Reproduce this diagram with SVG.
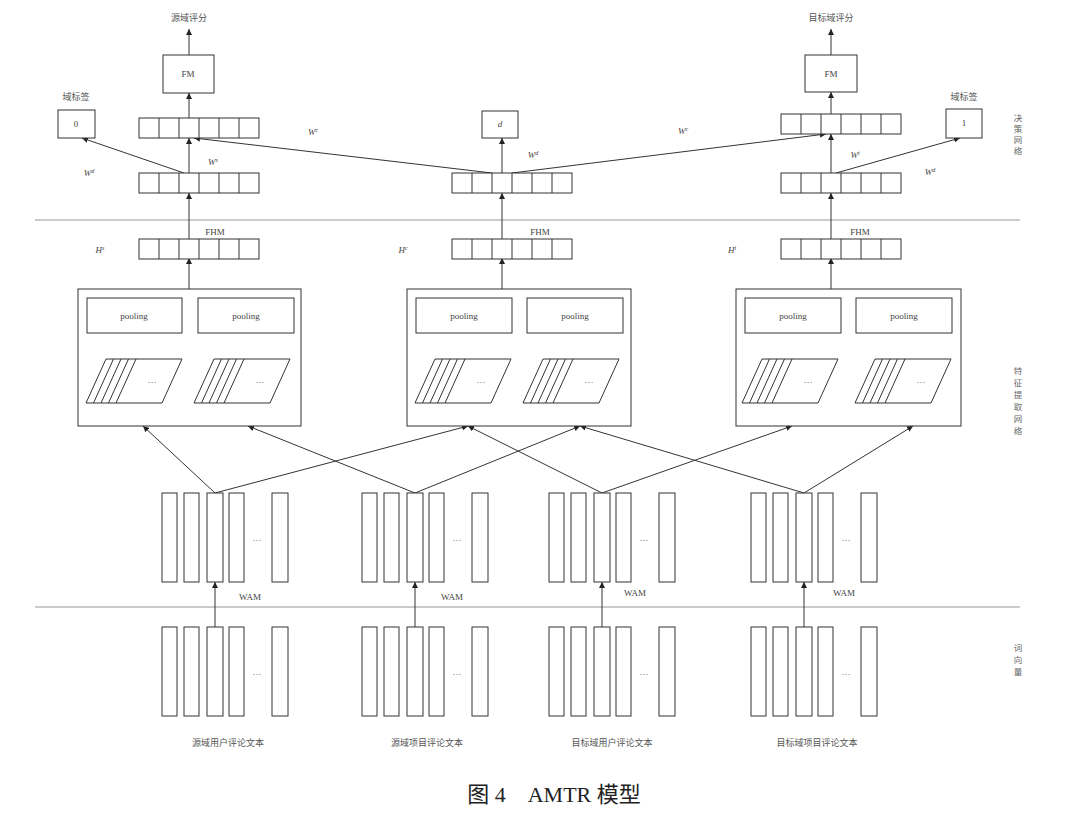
<svg xmlns="http://www.w3.org/2000/svg" width="1080" height="816" viewBox="0 0 1080 816">
<style>
.b{fill:#fff;stroke:#333;stroke-width:1}
.c{stroke:#333;stroke-width:1;fill:none}
.sep{stroke:#999;stroke-width:1.2;fill:none}
.t{font-family:"Liberation Serif","Noto Sans CJK SC",serif;font-size:9px;fill:#444}
.i{font-family:"Liberation Serif",serif;font-size:9px;font-style:italic;fill:#444}
.sup{font-size:6px}
.cn{font-family:"Noto Sans CJK SC",sans-serif;font-size:9px;fill:#555}
.v{font-family:"Noto Sans CJK SC",sans-serif;font-size:8.5px;fill:#666}
.cap{font-family:"Liberation Serif","Noto Sans CJK SC",serif;font-size:22px;fill:#222}
</style>
<defs>
<marker id="ah" viewBox="0 0 10 10" refX="10" refY="5" markerWidth="6" markerHeight="6" orient="auto"><path d="M0,0 L10,5 L0,10 z" fill="#222"/></marker>
<g id="bar6"><rect class="b" x="0" y="0" width="120" height="20"/><path class="c" d="M20,0V20M40,0V20M60,0V20M80,0V20M100,0V20"/></g>
<g id="par"><path class="c" d="M20,0H96L76,44H0Z M27.5,0L7.5,44 M35,0L15,44 M42.5,0L22.5,44 M50,0L30,44"/><text class="t" x="66" y="24" text-anchor="middle">…</text></g>
<g id="wv"><rect class="b" x="0" y="0" width="15" height="89"/><rect class="b" x="22" y="0" width="15" height="89"/><rect class="b" x="45" y="0" width="16" height="89"/><rect class="b" x="67" y="0" width="15" height="89"/><rect class="b" x="110" y="0" width="16" height="89"/><text class="t" x="95" y="48" text-anchor="middle">…</text></g>
</defs>
<rect width="1080" height="816" fill="#fff"/>

<g id="separators">
<line class="sep" x1="35" y1="220" x2="1020" y2="220"/>
<line class="sep" x1="35" y1="607" x2="1020" y2="607"/>
</g>

<g id="section-labels">
<text class="v" x="1018" y="121" text-anchor="middle">决</text>
<text class="v" x="1018" y="132" text-anchor="middle">策</text>
<text class="v" x="1018" y="143" text-anchor="middle">网</text>
<text class="v" x="1018" y="154" text-anchor="middle">络</text>
<text class="v" x="1018" y="374" text-anchor="middle">特</text>
<text class="v" x="1018" y="386" text-anchor="middle">征</text>
<text class="v" x="1018" y="398" text-anchor="middle">提</text>
<text class="v" x="1018" y="410" text-anchor="middle">取</text>
<text class="v" x="1018" y="422" text-anchor="middle">网</text>
<text class="v" x="1018" y="434" text-anchor="middle">络</text>
<text class="v" x="1018" y="651" text-anchor="middle">词</text>
<text class="v" x="1018" y="663" text-anchor="middle">向</text>
<text class="v" x="1018" y="675" text-anchor="middle">量</text>
</g>

<g id="connectors">
<line class="c" x1="189" y1="55" x2="189" y2="29" marker-end="url(#ah)"/>
<line class="c" x1="189" y1="118" x2="189" y2="93" marker-end="url(#ah)"/>
<line class="c" x1="189" y1="173" x2="189" y2="138" marker-end="url(#ah)"/>
<line class="c" x1="184" y1="173" x2="82" y2="138" marker-end="url(#ah)"/>
<line class="c" x1="492" y1="173" x2="194" y2="138" marker-end="url(#ah)"/>
<line class="c" x1="512" y1="173" x2="826" y2="134" marker-end="url(#ah)"/>
<line class="c" x1="502" y1="173" x2="502" y2="138" marker-end="url(#ah)"/>
<line class="c" x1="831" y1="55" x2="831" y2="29" marker-end="url(#ah)"/>
<line class="c" x1="831" y1="114" x2="831" y2="92" marker-end="url(#ah)"/>
<line class="c" x1="831" y1="173" x2="831" y2="134" marker-end="url(#ah)"/>
<line class="c" x1="836" y1="173" x2="960" y2="138" marker-end="url(#ah)"/>
<line class="c" x1="189" y1="239" x2="189" y2="193" marker-end="url(#ah)"/>
<line class="c" x1="502" y1="239" x2="502" y2="193" marker-end="url(#ah)"/>
<line class="c" x1="831" y1="239" x2="831" y2="193" marker-end="url(#ah)"/>
<line class="c" x1="189" y1="289" x2="189" y2="258" marker-end="url(#ah)"/>
<line class="c" x1="502" y1="289" x2="502" y2="258" marker-end="url(#ah)"/>
<line class="c" x1="831" y1="289" x2="831" y2="258" marker-end="url(#ah)"/>
<line class="c" x1="215" y1="493" x2="143" y2="426" marker-end="url(#ah)"/>
<line class="c" x1="215" y1="493" x2="468" y2="426" marker-end="url(#ah)"/>
<line class="c" x1="415" y1="493" x2="248" y2="426" marker-end="url(#ah)"/>
<line class="c" x1="415" y1="493" x2="580" y2="426" marker-end="url(#ah)"/>
<line class="c" x1="602" y1="493" x2="468" y2="426" marker-end="url(#ah)"/>
<line class="c" x1="602" y1="493" x2="792" y2="426" marker-end="url(#ah)"/>
<line class="c" x1="804" y1="493" x2="580" y2="426" marker-end="url(#ah)"/>
<line class="c" x1="804" y1="493" x2="913" y2="426" marker-end="url(#ah)"/>
<line class="c" x1="215" y1="628" x2="215" y2="582" marker-end="url(#ah)"/>
<line class="c" x1="415" y1="628" x2="415" y2="582" marker-end="url(#ah)"/>
<line class="c" x1="602" y1="628" x2="602" y2="582" marker-end="url(#ah)"/>
<line class="c" x1="804" y1="628" x2="804" y2="582" marker-end="url(#ah)"/>
</g>

<g id="weight-labels">
<text class="i" x="89" y="176" text-anchor="middle">W<tspan class="sup" dy="-3">d</tspan></text>
<text class="i" x="213" y="165" text-anchor="middle">W<tspan class="sup" dy="-3">s</tspan></text>
<text class="i" x="313" y="135" text-anchor="middle">W<tspan class="sup" dy="-3">c</tspan></text>
<text class="i" x="533" y="158" text-anchor="middle">W<tspan class="sup" dy="-3">d</tspan></text>
<text class="i" x="683" y="134" text-anchor="middle">W<tspan class="sup" dy="-3">c</tspan></text>
<text class="i" x="855" y="158" text-anchor="middle">W<tspan class="sup" dy="-3">t</tspan></text>
<text class="i" x="930" y="175" text-anchor="middle">W<tspan class="sup" dy="-3">d</tspan></text>
<text class="i" x="100" y="253" text-anchor="middle">H<tspan class="sup" dy="-3">s</tspan></text>
<text class="i" x="403" y="253" text-anchor="middle">H<tspan class="sup" dy="-3">c</tspan></text>
<text class="i" x="732" y="253" text-anchor="middle">H<tspan class="sup" dy="-3">t</tspan></text>
</g>

<g id="source-score"><text class="cn" x="189" y="21" text-anchor="middle">源域评分</text></g>
<g id="target-score"><text class="cn" x="831" y="21" text-anchor="middle">目标域评分</text></g>
<g id="fm-source"><rect class="b" x="163" y="55" width="51" height="38"/><text class="t" x="188" y="77" text-anchor="middle">FM</text></g>
<g id="fm-target"><rect class="b" x="805" y="55" width="52" height="37"/><text class="t" x="831" y="77" text-anchor="middle">FM</text></g>
<g id="domain-0"><text class="cn" x="76" y="100" text-anchor="middle">域标签</text><rect class="b" x="58" y="110" width="37" height="28"/><text class="t" x="76" y="127" text-anchor="middle">0</text></g>
<g id="domain-d"><rect class="b" x="482" y="111" width="36" height="27"/><text class="t" x="500" y="127" text-anchor="middle" font-style="italic">d</text></g>
<g id="domain-1"><text class="cn" x="964" y="100" text-anchor="middle">域标签</text><rect class="b" x="946" y="109" width="36" height="29"/><text class="t" x="964" y="126" text-anchor="middle">1</text></g>

<g id="dec-top-left"><use href="#bar6" x="139" y="118"/></g>
<g id="dec-low-left"><use href="#bar6" x="139" y="173"/></g>
<g id="dec-low-mid"><use href="#bar6" x="452" y="173"/></g>
<g id="dec-top-right"><use href="#bar6" x="781" y="114"/></g>
<g id="dec-low-right"><use href="#bar6" x="781" y="173"/></g>

<g id="fhm-left"><text class="t" x="215" y="235" text-anchor="middle">FHM</text><use href="#bar6" x="139" y="239"/></g>
<g id="fhm-mid"><text class="t" x="540" y="235" text-anchor="middle">FHM</text><use href="#bar6" x="452" y="239"/></g>
<g id="fhm-right"><text class="t" x="860" y="235" text-anchor="middle">FHM</text><use href="#bar6" x="781" y="239"/></g>

<g id="cnn-left">
<rect class="b" x="78" y="289" width="223" height="137"/>
<rect class="b" x="87" y="298" width="95" height="35"/><text class="t" x="134" y="319" text-anchor="middle">pooling</text>
<rect class="b" x="198" y="298" width="96" height="35"/><text class="t" x="246" y="319" text-anchor="middle">pooling</text>
<use href="#par" x="86" y="359"/><use href="#par" x="194" y="359"/>
</g>
<g id="cnn-mid">
<rect class="b" x="407" y="289" width="224" height="137"/>
<rect class="b" x="416" y="298" width="96" height="35"/><text class="t" x="464" y="319" text-anchor="middle">pooling</text>
<rect class="b" x="527" y="298" width="96" height="35"/><text class="t" x="575" y="319" text-anchor="middle">pooling</text>
<use href="#par" x="415" y="359"/><use href="#par" x="523" y="359"/>
</g>
<g id="cnn-right">
<rect class="b" x="736" y="289" width="225" height="137"/>
<rect class="b" x="745" y="298" width="96" height="35"/><text class="t" x="793" y="319" text-anchor="middle">pooling</text>
<rect class="b" x="856" y="298" width="96" height="35"/><text class="t" x="904" y="319" text-anchor="middle">pooling</text>
<use href="#par" x="742" y="359"/><use href="#par" x="855" y="359"/>
</g>

<g id="wam-1"><use href="#wv" x="162" y="493"/><text class="t" x="250" y="600" text-anchor="middle">WAM</text></g>
<g id="wam-2"><use href="#wv" x="362" y="493"/><text class="t" x="452" y="600" text-anchor="middle">WAM</text></g>
<g id="wam-3"><use href="#wv" x="549" y="493"/><text class="t" x="635" y="596" text-anchor="middle">WAM</text></g>
<g id="wam-4"><use href="#wv" x="751" y="493"/><text class="t" x="844" y="596" text-anchor="middle">WAM</text></g>

<g id="emb-1"><use href="#wv" x="162" y="627"/><text class="cn" x="228" y="746" text-anchor="middle">源域用户评论文本</text></g>
<g id="emb-2"><use href="#wv" x="362" y="627"/><text class="cn" x="427" y="746" text-anchor="middle">源域项目评论文本</text></g>
<g id="emb-3"><use href="#wv" x="549" y="627"/><text class="cn" x="612" y="746" text-anchor="middle">目标域用户评论文本</text></g>
<g id="emb-4"><use href="#wv" x="751" y="627"/><text class="cn" x="817" y="746" text-anchor="middle">目标域项目评论文本</text></g>

<g id="caption"><text class="cap" x="554" y="802" text-anchor="middle">图 4　AMTR 模型</text></g>
</svg>
